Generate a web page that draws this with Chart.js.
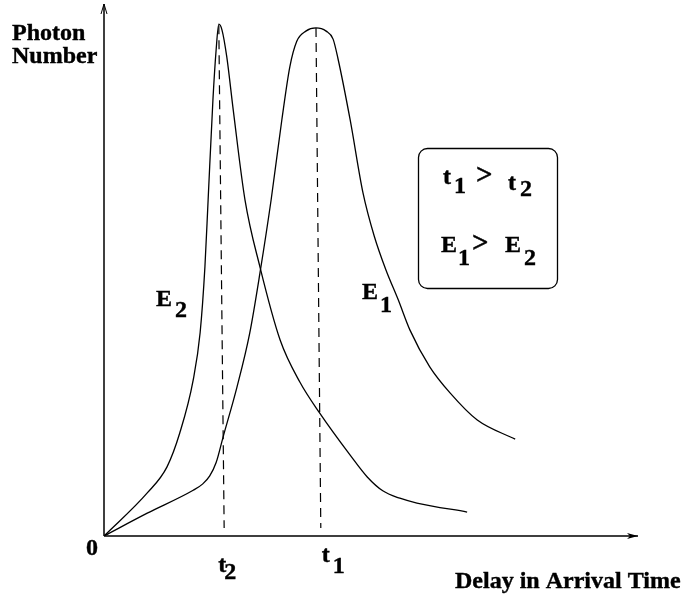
<!DOCTYPE html>
<html>
<head>
<meta charset="utf-8">
<title>Photon Number vs Delay</title>
<script src="https://cdn.jsdelivr.net/npm/chart.js@4/dist/chart.umd.min.js"></script>
<style>
  body { margin: 0; background: #fff; }
  #wrap { width: 685px; height: 603px; }
</style>
</head>
<body>
<div id="wrap"><canvas id="myChart" width="685" height="603"></canvas></div>
<script>
'use strict';

// curve E2 (lower energy, arrives earlier)
const e2Time = [0, 0.81, 1.18, 1.42, 1.67, 1.80, 1.89, 1.95, 2.04, 2.10, 2.15, 2.21, 2.30, 2.42, 2.64, 2.92, 3.30, 3.67, 4.04, 4.61, 4.93, 5.22, 5.54, 5.86, 6.80];
const e2Count = [0, 0.81, 1.30, 1.94, 2.93, 3.82, 5.06, 6.32, 8.20, 9.14, 9.62, 9.51, 9.00, 8.01, 6.32, 5.06, 3.68, 2.89, 2.31, 1.52, 1.11, 0.85, 0.71, 0.62, 0.45];

// curve E1 (higher energy, arrives later)
const e1Time = [0, 0.81, 1.67, 1.85, 1.98, 2.10, 2.23, 2.49, 2.73, 2.92, 3.13, 3.33, 3.48, 3.61, 3.78, 3.97, 4.16, 4.29, 4.38, 4.61, 4.85, 5.06, 5.28, 5.51, 5.73, 6.10, 6.48, 6.99, 7.70];
const e1Count = [0, 0.43, 0.86, 0.98, 1.13, 1.38, 1.86, 2.80, 3.82, 4.94, 6.32, 7.82, 8.82, 9.30, 9.49, 9.55, 9.49, 9.34, 8.98, 7.82, 6.45, 5.64, 5.00, 4.44, 3.87, 3.18, 2.69, 2.18, 1.82];

// dashed drop lines from each peak (top, bottom)
const t2LineTime = [2.15, 2.25];
const t2LineCount = [9.60, 0.15];
const t1LineTime = [3.97, 4.06];
const t1LineCount = [9.55, 0.15];

// tick labels on the time axis
const tickTimes = [0, 2.25, 4.06];
const tickLabels = [['0', ''], ['t', '2'], ['t', '1']];

const xMax = 10;
const yMax = 10;

function toPoints(xs, ys) {
  const pts = [];
  for (let i = 0; i < xs.length; i++) {
    pts.push({x: xs[i], y: ys[i]});
  }
  return pts;
}

const FONT = 'bold 24px "Liberation Serif", "Times New Roman", serif';
const GT_FONT = 'bold 29px "Liberation Serif", "Times New Roman", serif';

function txt(ctx, s, x, y, font) {
  ctx.font = font || FONT;
  ctx.fillText(s, x, y);
  ctx.strokeText(s, x, y);
}

const drawExtras = {
  id: 'drawExtras',
  afterDraw(chart) {
    const ctx = chart.ctx;
    const xs = chart.scales.x;
    const ys = chart.scales.y;
    const x0 = xs.getPixelForValue(0);
    const y0 = ys.getPixelForValue(0);
    const xEnd = xs.getPixelForValue(xMax);
    const yEnd = ys.getPixelForValue(yMax);

    ctx.save();
    ctx.strokeStyle = '#000';
    ctx.fillStyle = '#000';
    ctx.lineWidth = 1.5;

    // axes
    ctx.beginPath();
    ctx.moveTo(x0, y0);
    ctx.lineTo(xEnd, y0);
    ctx.moveTo(x0, y0);
    ctx.lineTo(x0, yEnd);
    ctx.stroke();

    // arrow heads
    ctx.lineWidth = 1;
    ctx.beginPath();
    ctx.moveTo(xEnd, y0);
    ctx.lineTo(xEnd - 11, y0 - 3);
    ctx.lineTo(xEnd - 8, y0);
    ctx.lineTo(xEnd - 11, y0 + 3);
    ctx.closePath();
    ctx.fill();
    ctx.beginPath();
    ctx.moveTo(x0 - 3, yEnd + 10);
    ctx.lineTo(x0, yEnd);
    ctx.lineTo(x0 + 3, yEnd + 10);
    ctx.stroke();

    // text
    ctx.textAlign = 'left';
    ctx.textBaseline = 'alphabetic';
    ctx.lineWidth = 0.4;
    txt(ctx, 'Photon', 12, 40);
    txt(ctx, 'Number', 12, 63);
    txt(ctx, 'Delay in Arrival Time', 455, 588);

    // tick labels
    const tx0 = xs.getPixelForValue(tickTimes[0]);
    txt(ctx, tickLabels[0][0], tx0 - 18, 555);
    const tx2 = xs.getPixelForValue(tickTimes[1]);
    txt(ctx, tickLabels[1][0], tx2 - 6, 572);
    txt(ctx, tickLabels[1][1], tx2 + 0, 579);
    const tx1 = xs.getPixelForValue(tickTimes[2]);
    txt(ctx, tickLabels[2][0], tx1 + 1, 562);
    txt(ctx, tickLabels[2][1], tx1 + 12, 573);

    // curve labels
    txt(ctx, 'E', 156, 306);
    txt(ctx, '2', 175, 317);
    txt(ctx, 'E', 362, 299);
    txt(ctx, '1', 380, 312);

    // relation box
    ctx.lineWidth = 1.3;
    ctx.beginPath();
    ctx.roundRect(418.5, 148.5, 139, 140, 9);
    ctx.stroke();
    ctx.lineWidth = 0.4;
    txt(ctx, 't', 443, 184);
    txt(ctx, '1', 454, 193);
    txt(ctx, '>', 476, 184, GT_FONT);
    txt(ctx, 't', 508, 190);
    txt(ctx, '2', 520, 196);
    txt(ctx, 'E', 441, 252);
    txt(ctx, '1', 458, 265);
    txt(ctx, '>', 472, 252, GT_FONT);
    txt(ctx, 'E', 505, 252);
    txt(ctx, '2', 524, 265);
    ctx.restore();
  }
};

function lineSet(data, dashed) {
  return {
    data: data,
    borderColor: '#000',
    borderWidth: dashed ? 1.2 : 1.3,
    borderDash: dashed ? [9, 6] : [],
    pointRadius: 0,
    fill: false,
    cubicInterpolationMode: dashed ? 'default' : 'monotone',
    tension: 0
  };
}

function chartFun() {
  const ctx = document.getElementById('myChart').getContext('2d');
  return new Chart(ctx, {
    type: 'line',
    data: {
      datasets: [
        lineSet(toPoints(e2Time, e2Count), false),
        lineSet(toPoints(e1Time, e1Count), false),
        lineSet(toPoints(t2LineTime, t2LineCount), true),
        lineSet(toPoints(t1LineTime, t1LineCount), true)
      ]
    },
    options: {
      responsive: false,
      animation: false,
      layout: { padding: { left: 104, right: 47, top: 4, bottom: 67 } },
      plugins: { legend: { display: false }, tooltip: { enabled: false } },
      scales: {
        x: { type: 'linear', min: 0, max: xMax, display: false },
        y: { type: 'linear', min: 0, max: yMax, display: false }
      }
    },
    plugins: [drawExtras]
  });
}

chartFun();
</script>
</body>
</html>
